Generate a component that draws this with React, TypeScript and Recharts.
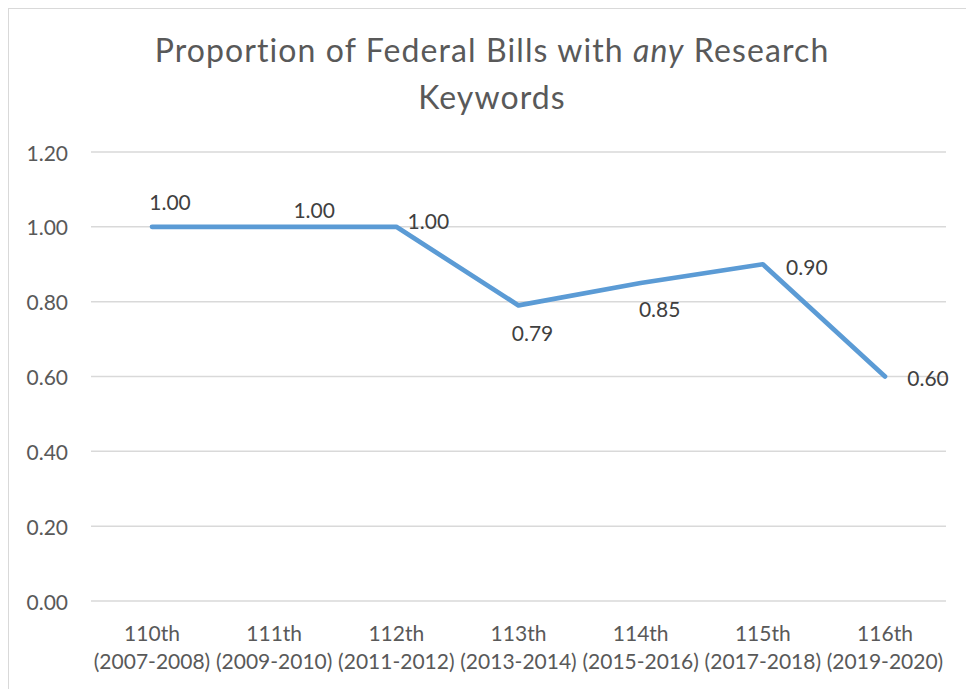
import { LineChart, Line, XAxis, YAxis, CartesianGrid, LabelList } from 'recharts';

const congresses = ['110th', '111th', '112th', '113th', '114th', '115th', '116th'];
const years = ['(2007-2008)', '(2009-2010)', '(2011-2012)', '(2013-2014)', '(2015-2016)', '(2017-2018)', '(2019-2020)'];
const proportions = [1.0, 1.0, 1.0, 0.79, 0.85, 0.9, 0.6];
const yTicks = [0, 0.2, 0.4, 0.6, 0.8, 1.0, 1.2];

// where Excel put each data label, relative to its point
const labelShift = [
  [18, -25],
  [40, -17],
  [32, -6],
  [14, 27],
  [19, 26],
  [44, 2],
  [43, 1],
];

const data = congresses.map((c, i) => ({ name: c, years: years[i], value: proportions[i] }));

const FONT = 'Lato, "Open Sans", sans-serif';

function YTick(props: any) {
  const { y, payload } = props;
  return (
    <text x={68} y={y} textAnchor="end" dominantBaseline="central" fontFamily={FONT} fontSize={21} fill="#595959">
      {payload.value.toFixed(2)}
    </text>
  );
}

function XTick(props: any) {
  const { x, payload, index } = props;
  return (
    <g>
      <text x={x} y={632} textAnchor="middle" dominantBaseline="central" fontFamily={FONT} fontSize={21} fill="#595959">
        {payload.value}
      </text>
      <text x={x} y={660} textAnchor="middle" dominantBaseline="central" fontFamily={FONT} fontSize={21} fill="#595959">
        {years[index]}
      </text>
    </g>
  );
}

function PointLabel(props: any) {
  const { x, y, value, index } = props;
  const [dx, dy] = labelShift[index];
  return (
    <text x={x + dx} y={y + dy} textAnchor="middle" dominantBaseline="central" fontFamily={FONT} fontSize={21} fill="#404040">
      {Number(value).toFixed(2)}
    </text>
  );
}

export default function App() {
  return (
    <div style={{ position: 'absolute', left: 0, top: 0, width: 966, height: 689, overflow: 'hidden', background: '#fff' }}>
      <div style={{ position: 'absolute', left: 8, top: 8, width: 1000, height: 720, border: '1.5px solid #d9d9d9' }} />
      <div
        style={{
          position: 'absolute',
          left: 92,
          top: 26,
          width: 800,
          textAlign: 'center',
          fontFamily: FONT,
          fontSize: 32,
          letterSpacing: '1.1px',
          lineHeight: '47px',
          color: '#595959',
        }}
      >
        Proportion of Federal Bills with <i>any</i> Research
        <br />
        Keywords
      </div>
      <div style={{ position: 'absolute', left: 0, top: 0 }}>
        <LineChart width={966} height={689} data={data} margin={{ top: 152, right: 20, bottom: 0, left: 0 }}>
          <CartesianGrid vertical={false} stroke="#d9d9d9" strokeWidth={1.5} />
          <XAxis
            dataKey="name"
            axisLine={false}
            tickLine={false}
            height={88}
            interval={0}
            padding={{ left: 61, right: 61 }}
            tick={<XTick />}
          />
          <YAxis
            type="number"
            domain={[0, 1.2]}
            ticks={yTicks}
            width={91}
            axisLine={false}
            tickLine={false}
            tick={<YTick />}
          />
          <Line
            type="linear"
            dataKey="value"
            stroke="#5b9bd5"
            strokeWidth={4.7}
            strokeLinecap="round"
            strokeLinejoin="round"
            dot={false}
            activeDot={false}
            isAnimationActive={false}
          >
            <LabelList dataKey="value" content={<PointLabel />} />
          </Line>
        </LineChart>
      </div>
    </div>
  );
}
